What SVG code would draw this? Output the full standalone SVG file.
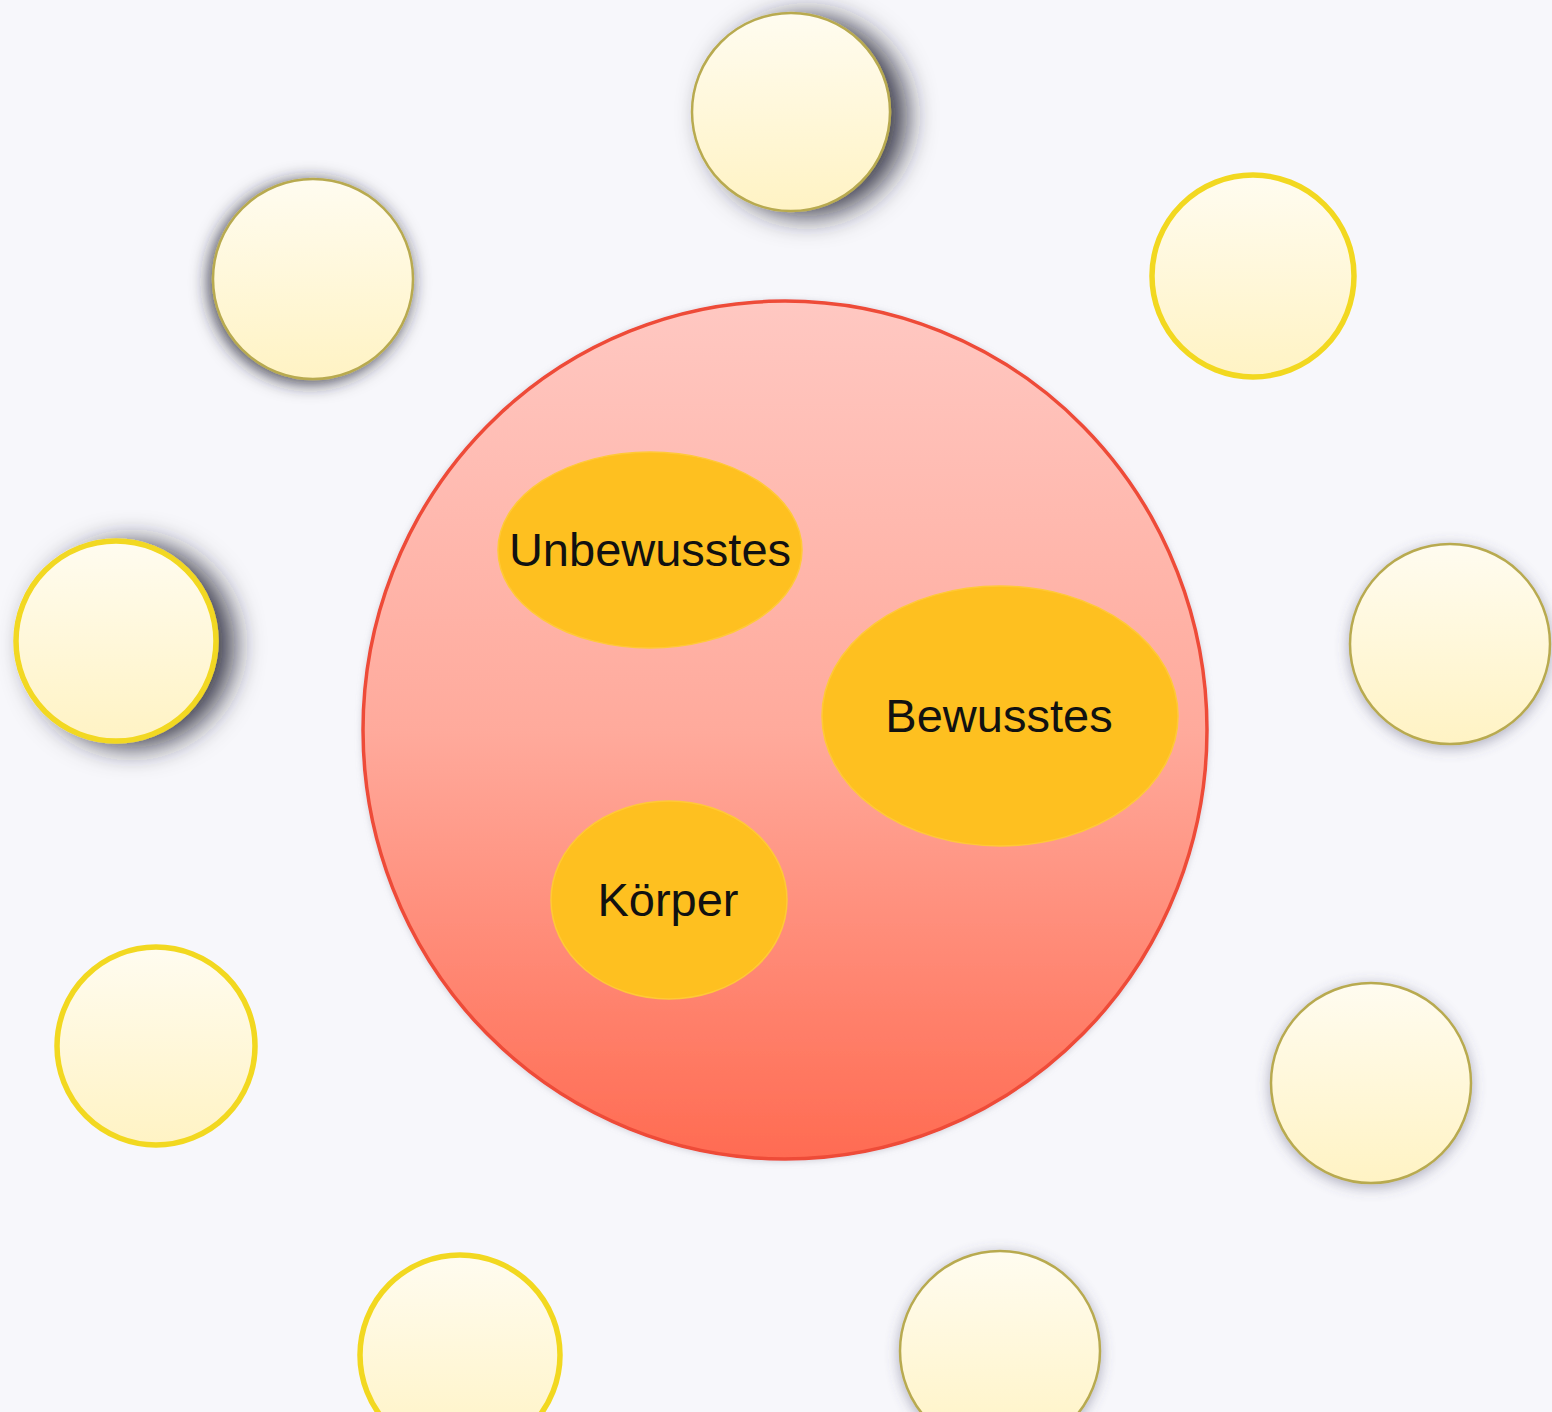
<svg xmlns="http://www.w3.org/2000/svg" width="1552" height="1412" viewBox="0 0 1552 1412">
<defs>
<linearGradient id="gBig" x1="0" y1="0" x2="0" y2="1">
<stop offset="0" stop-color="#ffc8c2"/>
<stop offset="0.5" stop-color="#ffaa9c"/>
<stop offset="1" stop-color="#ff6b52"/>
</linearGradient>
<linearGradient id="gSmall" x1="0" y1="0" x2="0" y2="1">
<stop offset="0" stop-color="#fffcf0"/>
<stop offset="1" stop-color="#fff3c4"/>
</linearGradient>
<filter id="shStrongR" x="-40%" y="-40%" width="180%" height="180%">
<feGaussianBlur in="SourceAlpha" stdDeviation="14"/>
<feOffset dx="16" dy="4" result="b"/>
<feFlood flood-color="#202030" flood-opacity="0.85"/>
<feComposite in2="b" operator="in"/>
<feMerge><feMergeNode/><feMergeNode in="SourceGraphic"/></feMerge>
</filter>
<filter id="shMid" x="-40%" y="-40%" width="180%" height="180%">
<feGaussianBlur in="SourceAlpha" stdDeviation="9"/>
<feOffset dx="-3" dy="3" result="b"/>
<feFlood flood-color="#202030" flood-opacity="0.85"/>
<feComposite in2="b" operator="in"/>
<feMerge><feMergeNode/><feMergeNode in="SourceGraphic"/></feMerge>
</filter>
<filter id="shLight" x="-40%" y="-40%" width="180%" height="180%">
<feGaussianBlur in="SourceAlpha" stdDeviation="7"/>
<feOffset dx="0" dy="3" result="b"/>
<feFlood flood-color="#505070" flood-opacity="0.45"/>
<feComposite in2="b" operator="in"/>
<feMerge><feMergeNode/><feMergeNode in="SourceGraphic"/></feMerge>
</filter>
<filter id="shSoft" x="-40%" y="-40%" width="180%" height="180%">
<feGaussianBlur in="SourceAlpha" stdDeviation="3"/>
<feOffset dx="0" dy="1" result="b"/>
<feFlood flood-color="#8a8a9a" flood-opacity="0.35"/>
<feComposite in2="b" operator="in"/>
<feMerge><feMergeNode/><feMergeNode in="SourceGraphic"/></feMerge>
</filter>
</defs>
<style>
.thin{fill:url(#gSmall);stroke:#b8aa50;stroke-width:2.5}
.thick{fill:url(#gSmall);stroke:#f2d820;stroke-width:5.5}
.inner{fill:#fec020;stroke:#ffc938;stroke-width:1.5}
.lbl{font-family:"Liberation Sans",Arial,sans-serif;font-size:47px;fill:#111;text-anchor:middle}
</style>
<rect width="1552" height="1412" fill="#f7f7fb"/>
<g id="connectors"/>
<g id="n-main" filter="url(#shSoft)">
<ellipse cx="785" cy="730" rx="422" ry="429" fill="url(#gBig)" stroke="#ee4b38" stroke-width="3.5"/>
</g>
<g id="n-unbewusstes">
<ellipse class="inner" cx="650" cy="550" rx="152" ry="98"/>
<text class="lbl" x="650" y="566">Unbewusstes</text>
</g>
<g id="n-bewusstes">
<ellipse class="inner" cx="1000" cy="716" rx="178" ry="130"/>
<text class="lbl" x="999" y="732">Bewusstes</text>
</g>
<g id="n-koerper">
<ellipse class="inner" cx="669" cy="900" rx="118" ry="99"/>
<text class="lbl" x="668" y="916">Körper</text>
</g>
<g id="n-top" filter="url(#shStrongR)"><circle class="thin" cx="791" cy="112" r="99" stroke="#dcd040"/></g>
<g id="n-topleft" filter="url(#shMid)"><circle class="thin" cx="313" cy="279" r="100"/></g>
<g id="n-topright"><circle class="thick" cx="1253" cy="276" r="101"/></g>
<g id="n-left" filter="url(#shStrongR)"><circle class="thick" cx="116" cy="641" r="100"/></g>
<g id="n-right" filter="url(#shLight)"><circle class="thin" cx="1450" cy="644" r="100"/></g>
<g id="n-lowerleft"><circle class="thick" cx="156" cy="1046" r="99"/></g>
<g id="n-lowerright" filter="url(#shLight)"><circle class="thin" cx="1371" cy="1083" r="100"/></g>
<g id="n-bottomleft"><circle class="thick" cx="460" cy="1355" r="100"/></g>
<g id="n-bottomright" filter="url(#shLight)"><circle class="thin" cx="1000" cy="1351" r="100"/></g>
</svg>
